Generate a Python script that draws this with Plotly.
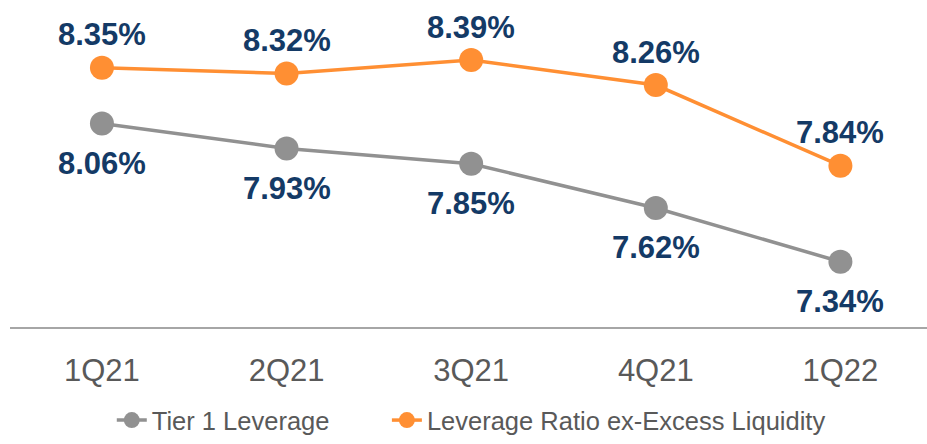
import plotly.graph_objects as go

quarters = ["1Q21", "2Q21", "3Q21", "4Q21", "1Q22"]
tier1 = [8.06, 7.93, 7.85, 7.62, 7.34]
ex_liq = [8.35, 8.32, 8.39, 8.26, 7.84]

GRAY = "#919191"
ORANGE = "#FF8F33"
NAVY = "#143A66"
FONT = "Liberation Sans, Arial"

fig = go.Figure()
fig.add_trace(go.Scatter(x=quarters, y=tier1, mode="lines+markers", name="Tier 1 Leverage",
                         line=dict(color=GRAY, width=3.5), marker=dict(color=GRAY, size=24),
                         legend="legend"))
fig.add_trace(go.Scatter(x=quarters, y=ex_liq, mode="lines+markers", name="Leverage Ratio ex-Excess Liquidity",
                         line=dict(color=ORANGE, width=3.5), marker=dict(color=ORANGE, size=24),
                         legend="legend2"))

for q, v in zip(quarters, tier1):
    fig.add_annotation(x=q, y=v, text=f"{v:.2f}%", showarrow=False, yshift=-40,
                       font=dict(family=FONT, size=31, color=NAVY, weight="bold"))
for q, v in zip(quarters, ex_liq):
    fig.add_annotation(x=q, y=v, text=f"{v:.2f}%", showarrow=False, yshift=33,
                       font=dict(family=FONT, size=31, color=NAVY, weight="bold"))

legend_style = dict(orientation="h", xanchor="left", xref="paper", yref="container",
                    y=-0.012, yanchor="bottom",
                    font=dict(size=25.5, color="#595959"), bgcolor="rgba(0,0,0,0)")

fig.update_layout(
    width=927, height=444,
    margin=dict(l=10, r=0, t=0, b=117),
    plot_bgcolor="white", paper_bgcolor="white",
    font=dict(family=FONT, color="#595959"),
    showlegend=True,
    legend=dict(x=0.111, **legend_style),
    legend2=dict(x=0.411, **legend_style),
    xaxis=dict(range=[-0.498, 4.469], showgrid=False, zeroline=False, automargin=False,
               showline=True, linecolor="#A6A6A6", linewidth=2,
               ticks="outside", ticklen=15, tickcolor="rgba(0,0,0,0)",
               tickfont=dict(size=31, color="#595959")),
    yaxis=dict(range=[7.0, 8.703], visible=False, automargin=False),
)

fig.write_html("out.html", config={"displayModeBar": False},
               post_script="document.body.style.margin='0';document.body.style.overflow='hidden';")
